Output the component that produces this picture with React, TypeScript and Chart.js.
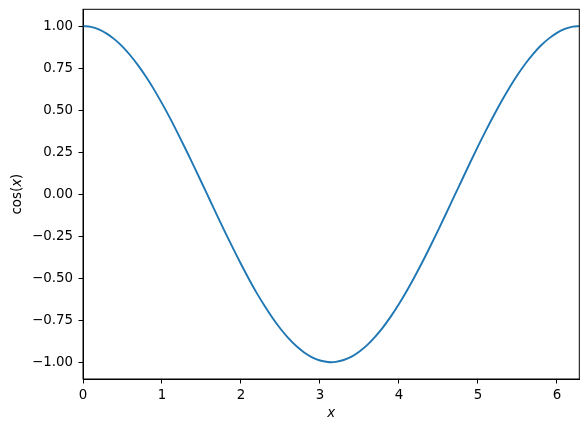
import React, { useEffect, useRef } from "react";
import { Chart, registerables } from "chart.js";

Chart.register(...registerables);

const xValues = [
  0, 0.1, 0.2, 0.3, 0.4, 0.5, 0.6, 0.7, 0.8, 0.9, 1.0, 1.1, 1.2, 1.3, 1.4, 1.5,
  1.6, 1.7, 1.8, 1.9, 2.0, 2.1, 2.2, 2.3, 2.4, 2.5, 2.6, 2.7, 2.8, 2.9, 3.0,
  3.1, 3.14, 3.2, 3.3, 3.4, 3.5, 3.6, 3.7, 3.8, 3.9, 4.0, 4.1, 4.2, 4.3, 4.4,
  4.5, 4.6, 4.7, 4.8, 4.9, 5.0, 5.1, 5.2, 5.3, 5.4, 5.5, 5.6, 5.7, 5.8, 5.9,
  6.0, 6.1, 6.2, 6.283,
];
const yValues = [
  1.0, 0.995, 0.98, 0.955, 0.921, 0.878, 0.825, 0.765, 0.697, 0.622, 0.54,
  0.454, 0.362, 0.267, 0.17, 0.071, -0.029, -0.129, -0.227, -0.323, -0.416,
  -0.505, -0.589, -0.666, -0.737, -0.801, -0.857, -0.904, -0.942, -0.971,
  -0.99, -0.999, -1.0, -0.998, -0.987, -0.967, -0.936, -0.897, -0.848, -0.791,
  -0.726, -0.654, -0.575, -0.49, -0.401, -0.307, -0.211, -0.112, -0.012, 0.087,
  0.187, 0.284, 0.378, 0.468, 0.554, 0.635, 0.709, 0.776, 0.835, 0.886, 0.927,
  0.96, 0.983, 0.997, 1.0,
];
const xTicks = [0, 1, 2, 3, 4, 5, 6];
const yTicks = [-1.0, -0.75, -0.5, -0.25, 0.0, 0.25, 0.5, 0.75, 1.0];
const xLimits = [0, 6.283];
const yLimits = [-1.1, 1.1];

const FONT = "DejaVu Sans";
const FS = 13.4;

const framePlugin = {
  id: "frameAndLabels",
  afterDraw(chart: any) {
    const { ctx, chartArea } = chart;
    const { left, right, top, bottom } = chartArea;
    ctx.save();
    ctx.strokeStyle = "#000";
    ctx.lineWidth = 1;
    ctx.strokeRect(left, top, right - left, bottom - top);

    ctx.fillStyle = "#000";
    ctx.textBaseline = "alphabetic";
    ctx.textAlign = "center";
    ctx.font = `italic ${FS}px ${FONT}`;
    ctx.fillText("x", (left + right) / 2, 417);

    const parts = [
      { t: "cos(", f: `${FS}px ${FONT}` },
      { t: "x", f: `italic ${FS}px ${FONT}` },
      { t: ")", f: `${FS}px ${FONT}` },
    ];
    let total = 0;
    const widths = parts.map((p) => {
      ctx.font = p.f;
      const w = ctx.measureText(p.t).width;
      total += w;
      return w;
    });
    ctx.translate(21, (top + bottom) / 2);
    ctx.rotate(-Math.PI / 2);
    ctx.textAlign = "left";
    let cx = -total / 2;
    parts.forEach((p, i) => {
      ctx.font = p.f;
      ctx.fillText(p.t, cx, 0);
      cx += widths[i];
    });
    ctx.restore();
  },
};

export default function App() {
  const ref = useRef<HTMLCanvasElement | null>(null);
  useEffect(() => {
    document.body.style.margin = "0";
    const canvas = ref.current!;
    const chart = new Chart(canvas, {
      type: "line",
      data: {
        datasets: [
          {
            data: xValues.map((x, i) => ({ x, y: yValues[i] })),
            borderColor: "#1f77b4",
            borderWidth: 1.9,
            pointRadius: 0,
            cubicInterpolationMode: "monotone",
            fill: false,
          },
        ],
      },
      options: {
        responsive: false,
        animation: false,
        devicePixelRatio: 1,
        layout: { padding: { left: 0, top: 9.3, right: 8.7, bottom: 0 } },
        plugins: {
          legend: { display: false },
          tooltip: { enabled: false },
        },
        scales: {
          x: {
            type: "linear",
            min: xLimits[0],
            max: xLimits[1],
            afterBuildTicks: (s: any) => {
              s.ticks = xTicks.map((v) => ({ value: v }));
            },
            afterFit: (s: any) => {
              s.height = 53;
              s.paddingLeft = 0;
              s.paddingRight = 0;
            },
            grid: {
              display: true,
              drawOnChartArea: false,
              drawTicks: true,
              tickLength: 4.5,
              tickColor: "#000",
              tickWidth: 1,
            },
            border: { display: true, color: "#000", width: 1 },
            ticks: {
              color: "#000",
              font: { family: FONT, size: FS },
              padding: 3.5,
              maxRotation: 0,
              autoSkip: false,
              callback: (v: any) => String(v),
            },
          },
          y: {
            type: "linear",
            min: yLimits[0],
            max: yLimits[1],
            afterBuildTicks: (s: any) => {
              s.ticks = yTicks.map((v) => ({ value: v }));
            },
            afterFit: (s: any) => {
              s.width = 83;
              s.paddingTop = 0;
              s.paddingBottom = 0;
            },
            grid: {
              display: true,
              drawOnChartArea: false,
              drawTicks: true,
              tickLength: 4.5,
              tickColor: "#000",
              tickWidth: 1,
            },
            border: { display: true, color: "#000", width: 1 },
            ticks: {
              color: "#000",
              font: { family: FONT, size: FS },
              padding: 5.5,
              autoSkip: false,
              callback: (v: any) => Number(v).toFixed(2).replace("-", "\u2212"),
            },
          },
        },
      },
      plugins: [framePlugin],
    } as any);
    return () => chart.destroy();
  }, []);
  return <canvas ref={ref} width={588} height={432} style={{ display: "block" }} />;
}
